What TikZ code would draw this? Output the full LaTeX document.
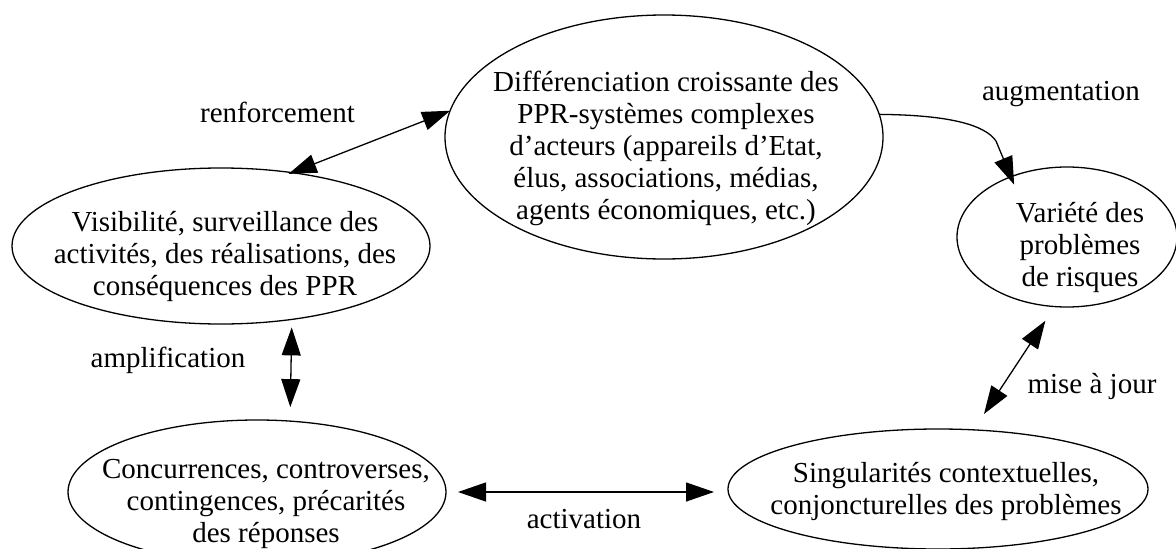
\documentclass[tikz,border=0pt]{standalone}
\usepackage{fontspec}
\setmainfont{Liberation Serif}
\usetikzlibrary{shapes.geometric,arrows.meta}
\begin{document}
\begin{tikzpicture}[x=1pt,y=-1pt,
  bubble/.style={draw,ellipse,line width=1.3pt,inner sep=0pt,outer sep=0pt},
  txt/.style={align=center,inner sep=0pt,font=\fontsize{29}{32}\selectfont},
  lbl/.style={anchor=base,inner sep=0pt,font=\fontsize{29}{32}\selectfont},
  link/.style={line width=1.3pt,-{Triangle[length=28pt,width=19pt]}},
  link2/.style={line width=1.3pt,{Triangle[length=28pt,width=19pt]}-{Triangle[length=28pt,width=19pt]}}]
\useasboundingbox (0,0) rectangle (1176,549);

% outlines of the five boxes
\node[bubble,minimum width=438pt,minimum height=244pt] (diff) at (664,137) {};
\node[bubble,minimum width=418pt,minimum height=156pt] (vis) at (221,246) {};
\node[bubble,minimum width=220pt,minimum height=140pt] (var) at (1067,237) {};
\node[bubble,minimum width=420pt,minimum height=120pt] (sing) at (938,489) {};
\node[bubble,minimum width=378pt,minimum height=144pt] (conc) at (257,492) {};

% their texts
\node[txt] (difftext) at (666,148) {Différenciation croissante des\\PPR-systèmes complexes\\d’acteurs (appareils d’Etat,\\élus, associations, médias,\\agents économiques, etc.)};
\node[txt] (vistext) at (225,257) {Visibilité, surveillance des\\activités, des réalisations, des\\conséquences des PPR};
\node[txt] (vartext) at (1080,247.5) {Variété des\\problèmes\\de risques};
\node[txt] (singtext) at (946,491) {Singularités contextuelles,\\conjoncturelles des problèmes};
\node[txt] (conctext) at (266,504) {Concurrences, controverses,\\contingences, précarités\\des réponses};

% connectors
\draw[link2,shorten <=-3.5pt] (vis.46) -- (diff.173);
\draw[link,shorten >=-8.5pt] (diff.6.4) .. controls (950,115) and (985,125) .. (996,141) -- (var.133.4);
\draw[link2,shorten <=8pt,shorten >=14pt] (vis.-46.8) -- (conc.65.1);
\draw[link2,shorten <=12pt,shorten >=14pt] (conc.east) -- (conc.east -| sing.west);
\draw[link2,shorten <=19pt,shorten >=17pt] (sing.59.2) -- (var.-100.6);

% connector labels
\node[lbl] (lrenf) at (277.5,122) {renforcement};
\node[lbl] (laug) at (1061,100) {augmentation};
\node[lbl] (lampl) at (168,367) {amplification};
\node[lbl] (lact) at (584,528) {activation};
\node[lbl] (lmaj) at (1092,393) {mise à jour};
\end{tikzpicture}
\end{document}
